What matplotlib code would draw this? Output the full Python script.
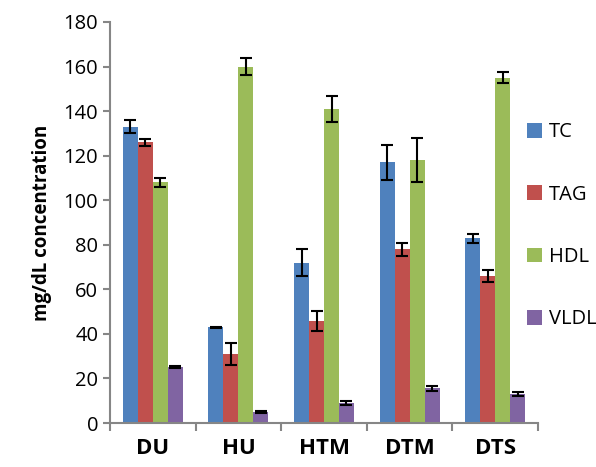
import matplotlib.pyplot as plt
import numpy as np

groups = ['DU', 'HU', 'HTM', 'DTM', 'DTS']
series = ['TC', 'TAG', 'HDL', 'VLDL']
tc = [133, 43, 72, 117, 83]
tag = [126, 31, 46, 78, 66]
hdl = [108, 160, 141, 118, 155]
vldl = [25, 5, 9, 15.5, 13]
tc_err = [3, 0.3, 6, 8, 2]
tag_err = [1.5, 5, 4.5, 3, 2.5]
hdl_err = [2, 4, 6, 10, 2.5]
vldl_err = [0.5, 0.5, 1, 1, 0.7]
colors = ['#4F81BD', '#C0504D', '#9BBB59', '#8064A2']

plt.rcParams['font.family'] = ['Open Sans', 'DejaVu Sans']

fig = plt.figure(figsize=(5.96, 4.67), dpi=100)
ax = fig.add_axes([0.1846, 0.0942, 0.9027 - 0.1846, 0.9529 - 0.0942])

x = np.arange(len(groups))
w = 0.175
vals = [tc, tag, hdl, vldl]
errs = [tc_err, tag_err, hdl_err, vldl_err]
for i in range(4):
    ax.bar(x + (i - 1.5) * w, vals[i], w, color=colors[i], label=series[i],
           yerr=errs[i], capsize=4.5, error_kw=dict(elinewidth=1.5, capthick=1.5, ecolor='black'))

ax.set_xlim(-0.5, 4.5)
ax.set_ylim(0, 180)
ax.set_yticks(range(0, 181, 20))
ax.set_xticks(x)
ax.set_xticklabels(groups, fontsize=16, fontweight='bold')
ax.set_xticks(np.arange(-0.5, 5, 1), minor=True)
ax.tick_params(axis='x', which='major', length=0, pad=11)
ax.tick_params(axis='x', which='minor', length=6, width=1.5, color='#868686')
ax.tick_params(axis='y', length=5, width=1.5, color='#868686', labelsize=14.5)
for s in ['top', 'right']:
    ax.spines[s].set_visible(False)
for s in ['left', 'bottom']:
    ax.spines[s].set_color('#868686')
    ax.spines[s].set_linewidth(1.5)
ax.set_ylabel('mg/dL concentration', fontsize=13.5, fontweight='bold', labelpad=8)

fig.legend(loc='upper left', bbox_to_anchor=(0.87, 0.755), frameon=False,
           fontsize=14.5, labelspacing=2.1, handlelength=0.75, handleheight=0.75,
           handletextpad=0.35, borderaxespad=0)

fig.savefig('out.png', dpi=100)
